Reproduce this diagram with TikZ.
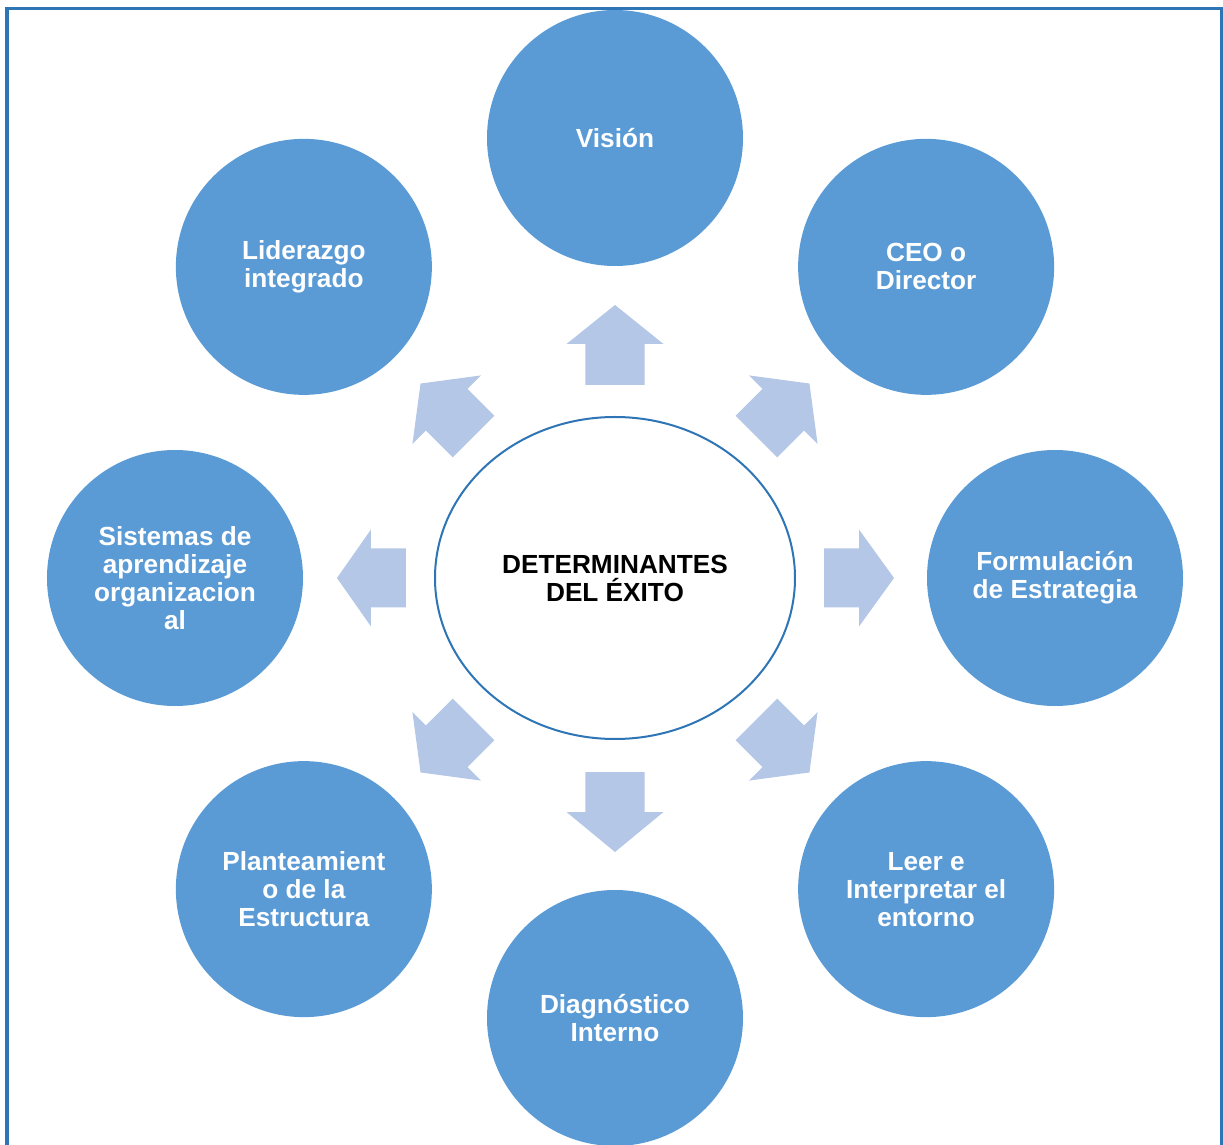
\documentclass[tikz,border=0pt]{standalone}
\usepackage{fontspec}
\setmainfont{Liberation Sans}
\usepackage{tikz}
\usepackage{xcolor}
\usetikzlibrary{shapes.geometric}

\definecolor{ringblue}{HTML}{5B9BD5}
\definecolor{arrowblue}{HTML}{B4C7E7}
\definecolor{edgeblue}{HTML}{2E75B6}

\tikzset{
  topic/.style={circle, fill=ringblue, minimum size=256pt, inner sep=0pt,
    align=center, text=white, font=\fontsize{26.2}{28}\selectfont\bfseries},
  core/.style={ellipse, draw=edgeblue, line width=2pt, fill=white,
    minimum width=360pt, minimum height=322pt, inner sep=0pt,
    align=center, font=\fontsize{26.2}{28}\selectfont\bfseries},
}

\begin{document}
\begin{tikzpicture}[x=1pt,y=1pt]
  \useasboundingbox (-615,-567) rectangle (608,578);
  \draw[edgeblue, line width=3.5pt] (-608,-567) -- (-608,569.5) -- (607,569.5) -- (607,-567);

  \foreach \ang/\from/\len/\head in {90/193/80/39, 45/200/75/37, 0/209/70/35,
      -45/200/75/37, -90/194/80/40, -135/200/75/37, 180/209/69/34, 135/200/75/37}
    \fill[arrowblue, rotate=\ang] (\from,-29.5) -- ++(\len-\head,0) -- ++(0,-19)
      -- (\from+\len,0) -- (\from+\len-\head,48.5) -- ++(0,-19)
      -- (\from,29.5) -- cycle;

  \node (det) [core] at (0,0) {DETERMINANTES\\DEL ÉXITO};

  \node (vision) [topic] at (90:440) {Visión};
  \node (ceo) [topic] at (45:440) {CEO o\\Director};
  \node (formula) [topic] at (0:440) {Formulación\\de Estrategia};
  \node (entorno) [topic] at (-45:440) {Leer e\\Interpretar el\\entorno};
  \node (diagnostico) [topic] at (-90:440) {Diagnóstico\\Interno};
  \node (estructura) [topic] at (-135:440) {Planteamient\\o de la\\Estructura};
  \node (sistemas) [topic] at (180:440) {Sistemas de\\aprendizaje\\organizacion\\al};
  \node (liderazgo) [topic] at (135:440) {Liderazgo\\integrado};
\end{tikzpicture}
\end{document}
